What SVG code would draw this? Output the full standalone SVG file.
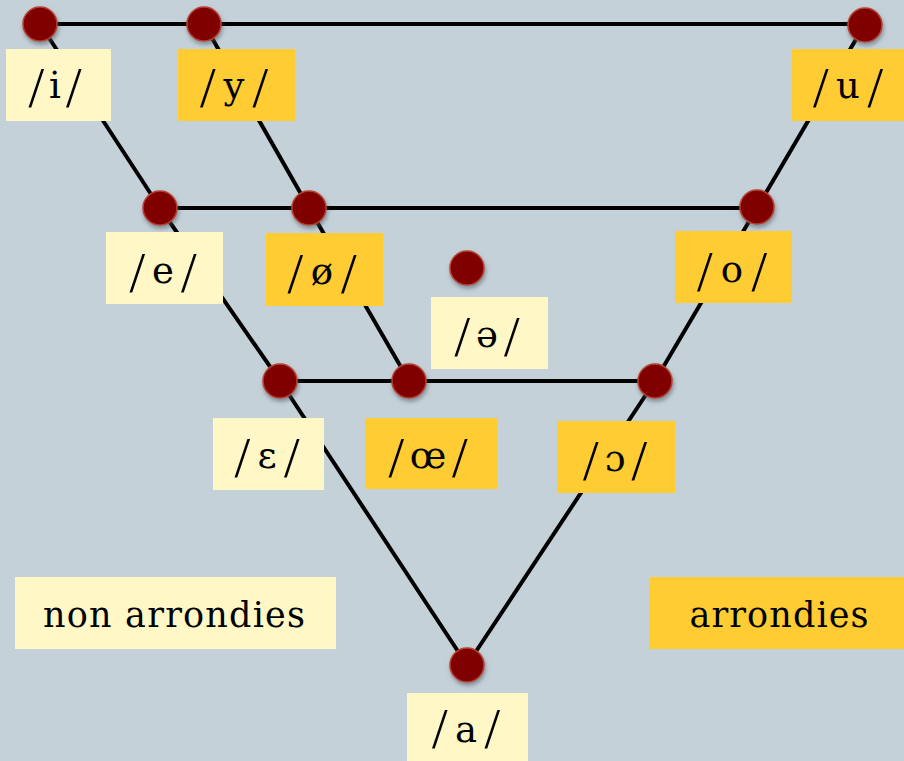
<svg xmlns="http://www.w3.org/2000/svg" width="904" height="761" viewBox="0 0 904 761">
<defs>
<filter id="sh" x="-50%" y="-50%" width="200%" height="200%">
<feDropShadow dx="1" dy="3" stdDeviation="2" flood-color="#4a5560" flood-opacity="0.55"/>
</filter>
</defs>
<style>
.bg{fill:#c5d1d9}
.ln{stroke:#000;stroke-width:4;fill:none;stroke-linecap:round}
.dot{fill:#800000;stroke:#b4432f;stroke-width:1.5;filter:url(#sh)}
.lt{fill:#fff8c6}
.or{fill:#ffcc33}
.t{font-family:"DejaVu Serif","Liberation Serif",serif;font-size:37px;fill:#000;text-anchor:middle}
.s{font-family:"Liberation Serif","Times New Roman",serif;font-size:56px}
.lg{font-family:"DejaVu Serif","Liberation Serif",serif;font-size:35px;fill:#000;text-anchor:middle}
</style>
<rect class="bg" x="0" y="0" width="904" height="761"/>
<g id="connectors">
<line class="ln" x1="40" y1="24" x2="204" y2="24"/>
<line class="ln" x1="204" y1="24" x2="865" y2="24"/>
<line class="ln" x1="160" y1="208" x2="309" y2="208"/>
<line class="ln" x1="309" y1="208" x2="757" y2="208"/>
<line class="ln" x1="280" y1="381" x2="409" y2="381"/>
<line class="ln" x1="409" y1="381" x2="655" y2="381"/>
<line class="ln" x1="40" y1="24" x2="160" y2="208"/>
<line class="ln" x1="160" y1="208" x2="280" y2="381"/>
<line class="ln" x1="280" y1="381" x2="467" y2="665"/>
<line class="ln" x1="865" y1="24" x2="757" y2="208"/>
<line class="ln" x1="757" y1="208" x2="655" y2="381"/>
<line class="ln" x1="655" y1="381" x2="467" y2="665"/>
<line class="ln" x1="204" y1="24" x2="309" y2="208"/>
<line class="ln" x1="309" y1="208" x2="409" y2="381"/>
</g>
<g id="node-i">
<circle class="dot" cx="40" cy="24" r="17"/>
<rect class="lt" x="6" y="49" width="105" height="72"/>
<text class="t" x="55" y="98" textLength="53" lengthAdjust="spacing"><tspan class="s" dy="9">/</tspan><tspan dy="-9">i</tspan><tspan class="s" dy="9">/</tspan></text>
</g>
<g id="node-y">
<circle class="dot" cx="204" cy="24" r="17"/>
<rect class="or" x="178" y="49" width="117" height="72"/>
<text class="t" x="234" y="98" textLength="68" lengthAdjust="spacing"><tspan class="s" dy="9">/</tspan><tspan dy="-9">y</tspan><tspan class="s" dy="9">/</tspan></text>
</g>
<g id="node-u">
<circle class="dot" cx="865" cy="25" r="17"/>
<rect class="or" x="792" y="49" width="112" height="72"/>
<text class="t" x="848" y="98" textLength="70" lengthAdjust="spacing"><tspan class="s" dy="9">/</tspan><tspan dy="-9">u</tspan><tspan class="s" dy="9">/</tspan></text>
</g>
<g id="node-e">
<circle class="dot" cx="160" cy="208" r="17"/>
<rect class="lt" x="106" y="232" width="117" height="72"/>
<text class="t" x="163" y="283" textLength="67" lengthAdjust="spacing"><tspan class="s" dy="9">/</tspan><tspan dy="-9">e</tspan><tspan class="s" dy="9">/</tspan></text>
</g>
<g id="node-oe-slash">
<circle class="dot" cx="309" cy="208" r="17"/>
<rect class="or" x="266" y="233" width="117" height="73"/>
<text class="t" x="322" y="284" textLength="69" lengthAdjust="spacing"><tspan class="s" dy="9">/</tspan><tspan dy="-9">ø</tspan><tspan class="s" dy="9">/</tspan></text>
</g>
<g id="node-o">
<circle class="dot" cx="757" cy="207" r="17"/>
<rect class="or" x="675" y="231" width="117" height="72"/>
<text class="t" x="732" y="282" textLength="70" lengthAdjust="spacing"><tspan class="s" dy="9">/</tspan><tspan dy="-9">o</tspan><tspan class="s" dy="9">/</tspan></text>
</g>
<g id="node-schwa">
<circle class="dot" cx="467" cy="268" r="17"/>
<rect class="lt" x="431" y="297" width="117" height="72"/>
<text class="t" x="487" y="347" textLength="65" lengthAdjust="spacing"><tspan class="s" dy="9">/</tspan><tspan dy="-9">ə</tspan><tspan class="s" dy="9">/</tspan></text>
</g>
<g id="node-epsilon">
<circle class="dot" cx="280" cy="381" r="17"/>
<rect class="lt" x="213" y="418" width="111" height="72"/>
<text class="t" x="267" y="468" textLength="65" lengthAdjust="spacing"><tspan class="s" dy="9">/</tspan><tspan dy="-9">ɛ</tspan><tspan class="s" dy="9">/</tspan></text>
</g>
<g id="node-oe">
<circle class="dot" cx="409" cy="381" r="17"/>
<rect class="or" x="365" y="418" width="132" height="71"/>
<text class="t" x="428" y="468" textLength="79" lengthAdjust="spacing"><tspan class="s" dy="9">/</tspan><tspan dy="-9">œ</tspan><tspan class="s" dy="9">/</tspan></text>
</g>
<g id="node-open-o">
<circle class="dot" cx="655" cy="381" r="17"/>
<rect class="or" x="557" y="421" width="118" height="72"/>
<text class="t" x="615" y="471" textLength="64" lengthAdjust="spacing"><tspan class="s" dy="9">/</tspan><tspan dy="-9">ɔ</tspan><tspan class="s" dy="9">/</tspan></text>
</g>
<g id="node-a">
<circle class="dot" cx="467" cy="665" r="17"/>
<rect class="lt" x="407" y="693" width="121" height="68"/>
<text class="t" x="466" y="742" textLength="68" lengthAdjust="spacing"><tspan class="s" dy="6">/</tspan><tspan dy="-6">a</tspan><tspan class="s" dy="6">/</tspan></text>
</g>
<g id="legend-non-arrondies">
<rect class="lt" x="15" y="577" width="321" height="72"/>
<text class="lg" x="174" y="627" textLength="262" lengthAdjust="spacing">non arrondies</text>
</g>
<g id="legend-arrondies">
<rect class="or" x="649" y="577" width="255" height="72"/>
<text class="lg" x="779" y="627" textLength="179" lengthAdjust="spacing">arrondies</text>
</g>
</svg>
